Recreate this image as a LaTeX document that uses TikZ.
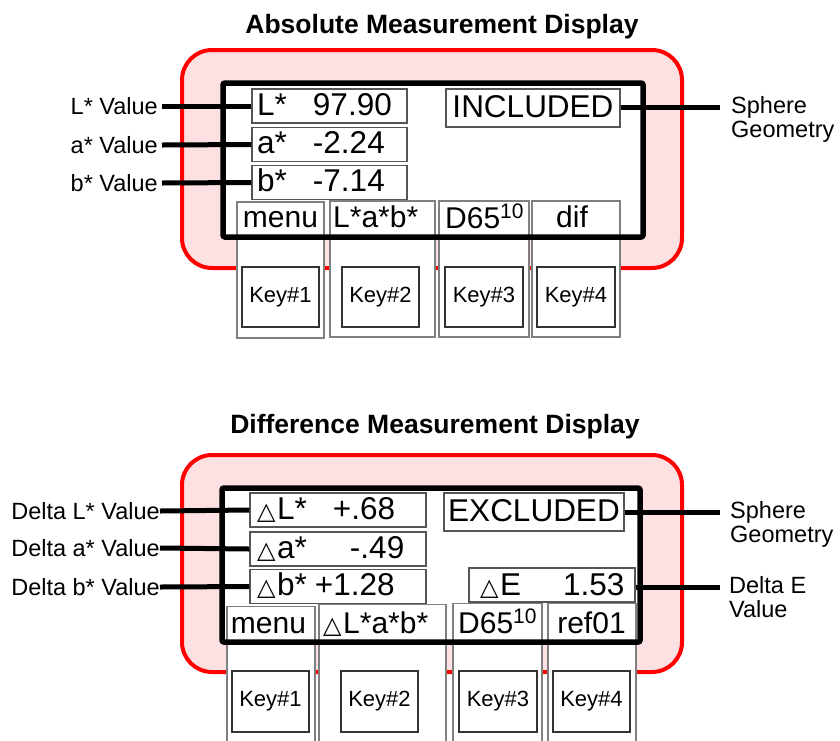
\documentclass[tikz,border=0pt]{standalone}
\usepackage{fontspec}
\setmainfont{Liberation Sans}
\newfontfamily\symfont{DejaVu Sans}
\definecolor{pinkfill}{HTML}{FDE0E1}
\definecolor{boxgray}{HTML}{555555}
\definecolor{colgray}{HTML}{808080}
\newcommand{\tri}{{\symfont\fontsize{24}{24}\selectfont △}}
\newcommand{\trib}{\makebox[20pt][l]{\tri}}
\begin{document}
\begin{tikzpicture}[x=1pt,y=-1pt,
  panel/.style={draw=red, line width=4pt, fill=pinkfill, rounded corners=30pt},
  screenfill/.style={fill=white, rounded corners=2pt},
  screenline/.style={draw=black, line width=5.5pt, rounded corners=2pt},
  keycol/.style={draw=colgray, line width=1.2pt, fill=white, inner sep=0},
  keybox/.style={draw=black!80, line width=1.2pt, fill=white, inner sep=0,
     minimum width=77pt, minimum height=60pt, font=\fontsize{22}{26}\selectfont},
  vbox/.style={draw=boxgray, line width=1.2pt, fill=white, inner ysep=0, inner xsep=5pt,
     minimum height=34pt, font=\fontsize{31.5}{36}\selectfont, text height=24pt, text depth=6pt, align=left},
  keylab/.style={font=\fontsize{30}{36}\selectfont, inner sep=0},
  lab/.style={font=\fontsize{23.5}{24}\selectfont, inner sep=0},
  ttl/.style={font=\bfseries\fontsize{26.5}{30}\selectfont, inner sep=0},
  conn/.style={draw=black, line width=5pt}
]
\useasboundingbox (0,0) rectangle (840,740);

%================ TOP PANEL =================
\node[ttl, anchor=base] (t1) at (442,33) {Absolute Measurement Display};
\draw[panel] (182,50) rectangle (682,268);
\fill[screenfill] (223,83) rectangle (643,237);
% key columns
\node[keycol, minimum width=87pt, minimum height=136pt] (c1) at (280.5,270) {};
\node[keycol, minimum width=105pt, minimum height=136pt] (c2) at (382.5,269) {};
\node[keycol, minimum width=90pt, minimum height=136pt] (c3) at (484,269) {};
\node[keycol, minimum width=88pt, minimum height=136pt] (c4) at (576,269) {};
\node[keybox] (k1) at (280.5,297) {Key\#1};
\node[keybox] (k2) at (380.5,297) {Key\#2};
\node[keybox, minimum width=78pt] (k3) at (484,297) {Key\#3};
\node[keybox, minimum width=78pt] (k4) at (576,297) {Key\#4};
\node[keylab, anchor=base] (m1) at (280.5,227) {menu};
\node[keylab, anchor=base west] (m2) at (333,227) {L*a*b*};
\node[keylab, anchor=base west] (m3) at (445,228) {D65\raisebox{10pt}{\fontsize{21}{21}\selectfont 10}};
\node[keylab, anchor=base] (m4) at (572,227) {dif};
\draw[screenline] (223,83) rectangle (643,237);
% value boxes
\node[vbox, text width=145pt] (vL) at (329.5,106) {\makebox[56pt][l]{L*}97.90};
\node[vbox, text width=145pt] (va) at (329.5,144.5) {\makebox[56pt][l]{a*}-2.24};
\node[vbox, text width=145pt] (vb) at (329.5,182.5) {\makebox[56pt][l]{b*}-7.14};
\node[vbox, minimum width=174pt, minimum height=38pt, inner xsep=0, align=center] (inc) at (533,108) {INCLUDED};
% labels and connectors
\node[lab, anchor=east] (lL) at (158,106) {L* Value};
\node[lab, anchor=east] (la) at (158,145) {a* Value};
\node[lab, anchor=east] (lb) at (158,183) {b* Value};
\draw[conn] ([xshift=4pt]lL.east) -- (vL.west);
\draw[conn] ([xshift=4pt]la.east) -- (va.west);
\draw[conn] ([xshift=4pt]lb.east) -- (vb.west);
\node[lab, anchor=base west] (sg1) at (731,113) {\begin{tabular}[t]{@{}l@{}}Sphere\\Geometry\end{tabular}};
\coordinate (sg1end) at (720,107);
\draw[conn] (inc.east |- sg1end) -- (sg1end);

%================ BOTTOM PANEL =================
\node[ttl, anchor=base] (t2) at (435,433) {Difference Measurement Display};
\draw[panel] (182,455) rectangle (682,672);
\fill[screenfill] (222,488) rectangle (640,642);
\node[keycol, minimum width=88pt, minimum height=137pt] (d1) at (271,675) {};
\node[keycol, minimum width=127pt, minimum height=139pt] (d2) at (382.5,674) {};
\node[keycol, minimum width=89pt, minimum height=140pt] (d3) at (497.5,673.5) {};
\node[keycol, minimum width=88pt, minimum height=140pt] (d4) at (592,673.5) {};
\node[keybox, minimum height=61pt] (e1) at (270.5,701.5) {Key\#1};
\node[keybox, minimum height=61pt] (e2) at (379.5,701.5) {Key\#2};
\node[keybox, minimum height=61pt, minimum width=78pt] (e3) at (498,701.5) {Key\#3};
\node[keybox, minimum height=61pt] (e4) at (591.5,701.5) {Key\#4};
\node[keylab, anchor=base] (n1) at (268.5,633) {menu};
\node[keylab, anchor=base west] (n2) at (323,633) {\trib L*a*b*};
\node[keylab, anchor=base west] (n3) at (458,633) {D65\raisebox{10pt}{\fontsize{21}{21}\selectfont 10}};
\node[keylab, anchor=base] (n4) at (591.5,633) {ref01};
\draw[screenline] (222,488) rectangle (640,642);
\node[vbox, text width=166pt] (dL) at (338,510) {\hspace*{2pt}\trib\makebox[56pt][l]{L*}+.68};
\node[vbox, text width=166pt] (da) at (338,549) {\hspace*{2pt}\trib\makebox[73pt][l]{a*}-.49};
\node[vbox, text width=166pt] (db) at (338,586.5) {\hspace*{2pt}\trib\makebox[38pt][l]{b*}+1.28};
\node[vbox, minimum width=180pt, minimum height=38pt, inner xsep=0, align=center] (exc) at (534,512) {EXCLUDED};
\node[vbox, text width=156pt, text height=25pt, text depth=5pt] (dE) at (552,585) {\hspace*{6pt}\trib\makebox[63pt][l]{E}1.53};
\node[lab, anchor=east] (mL) at (160,511) {Delta L* Value};
\node[lab, anchor=east] (ma) at (160,548) {Delta a* Value};
\node[lab, anchor=east] (mb) at (160,587) {Delta b* Value};
\draw[conn] (mL.east) -- (dL.west);
\draw[conn] (ma.east) -- (da.west);
\draw[conn] (mb.east) -- (db.west);
\node[lab, anchor=base west] (sg2) at (730,518) {\begin{tabular}[t]{@{}l@{}}Sphere\\Geometry\end{tabular}};
\coordinate (sg2end) at (720,512);
\draw[conn] (exc.east |- sg2end) -- (sg2end);
\node[lab, anchor=base west] (de) at (729,593) {\begin{tabular}[t]{@{}l@{}}Delta E\\Value\end{tabular}};
\coordinate (deend) at (720,587);
\draw[conn] (dE.east |- deend) -- (deend);
\end{tikzpicture}
\end{document}
